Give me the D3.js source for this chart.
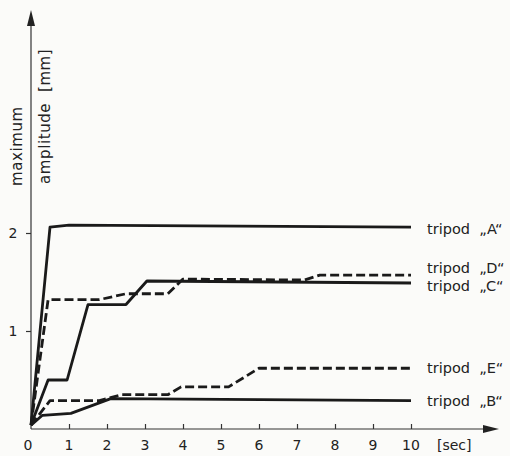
<!DOCTYPE html>
<html>
<head>
<meta charset="utf-8">
<script src="https://cdn.jsdelivr.net/npm/d3@7"></script>
<style>
  body { margin: 0; background: #fbfbf9; }
  text { font-family: "DejaVu Sans", sans-serif; fill: #222; }
</style>
</head>
<body>
<div id="chart"></div>
<script>
// time [sec], maximum amplitude [mm]
const tripodA = [[0, 0.04], [0.5, 2.06], [1, 2.08], [10, 2.06]];
const tripodB = [[0, 0.04], [0.3, 0.14], [1.05, 0.16], [2.1, 0.31], [10, 0.29]];
const tripodC = [[0, 0.04], [0.45, 0.5], [0.95, 0.5], [1.5, 1.27], [2.5, 1.27], [3.05, 1.51], [10, 1.49]];
const tripodD = [[0, 0.04], [0.45, 1.32], [1.8, 1.32], [2.5, 1.38], [3.6, 1.38], [4.0, 1.53], [7.2, 1.52], [7.6, 1.57], [10, 1.57]];
const tripodE = [[0, 0.04], [0.5, 0.29], [1.8, 0.29], [2.4, 0.35], [3.6, 0.35], [3.95, 0.43], [5.2, 0.43], [6.0, 0.62], [10, 0.62]];

const seriesNames = ["tripod\u00a0\u00a0„A“", "tripod\u00a0\u00a0„B“", "tripod\u00a0\u00a0„C“", "tripod\u00a0\u00a0„D“", "tripod\u00a0\u00a0„E“"];
const seriesData = [tripodA, tripodB, tripodC, tripodD, tripodE];
const seriesDashed = [false, false, false, true, true];
const labelAt = [2.04, 0.29, 1.46, 1.64, 0.62]; // where each label sits, in mm

const xTicks = [0, 1, 2, 3, 4, 5, 6, 7, 8, 9, 10];
const yTicks = [1, 2];

const svg = d3.select("#chart").append("svg").attr("width", 510).attr("height", 456);

const x = d3.scaleLinear().domain([0, 10]).range([31, 411]);
const y = d3.scaleLinear().domain([0, 2]).range([429, 233]);

// axes lines with arrows
svg.append("line").attr("x1", 31).attr("y1", 429).attr("x2", 31).attr("y2", 20)
  .attr("stroke", "#333").attr("stroke-width", 1.2);
svg.append("path").attr("d", "M31,10 L27,26 L35,26 Z").attr("fill", "#222");
svg.append("line").attr("x1", 31).attr("y1", 429).attr("x2", 488).attr("y2", 429)
  .attr("stroke", "#333").attr("stroke-width", 1.2);
svg.append("path").attr("d", "M499,429 L483,425 L483,433 Z").attr("fill", "#222");

// x ticks
const xAxis = svg.append("g").attr("transform", "translate(0,429)")
  .call(d3.axisTop(x).tickValues(xTicks.slice(1)).tickSize(5).tickFormat(""));
xAxis.select(".domain").remove();
xAxis.selectAll("line").attr("stroke", "#333").attr("stroke-width", 1.2);

svg.selectAll("text.xt").data(xTicks).enter().append("text")
  .attr("class", "xt")
  .attr("x", d => d === 0 ? x(d) - 3 : x(d))
  .attr("y", 450)
  .attr("text-anchor", "middle")
  .style("font-size", "14px")
  .text(d => d);

svg.append("text").attr("x", 437).attr("y", 450).style("font-size", "14px").text("[sec]");

// y ticks
const yAxis = svg.append("g").attr("transform", "translate(31,0)")
  .call(d3.axisLeft(y).tickValues(yTicks).tickSize(5).tickFormat(""));
yAxis.select(".domain").remove();
yAxis.selectAll("line").attr("stroke", "#333").attr("stroke-width", 1.2);

svg.selectAll("text.yt").data(yTicks).enter().append("text")
  .attr("class", "yt")
  .attr("x", 13)
  .attr("y", d => y(d) + 5)
  .attr("text-anchor", "middle")
  .style("font-size", "14px")
  .text(d => d);

// y axis title, two lines
svg.append("text").attr("transform", "translate(22,186) rotate(-90)")
  .style("font-size", "15px").style("letter-spacing", "0.6px").text("maximum");
svg.append("text").attr("transform", "translate(50,184) rotate(-90)")
  .style("font-size", "15px").style("letter-spacing", "0.6px").text("amplitude\u00a0\u00a0[mm]");

// series
const line = d3.line().x(d => x(d[0])).y(d => y(d[1]));

svg.selectAll("path.series").data(seriesData).enter().append("path")
  .attr("class", "series")
  .attr("d", line)
  .attr("fill", "none")
  .attr("stroke", "#1a1a1a")
  .attr("stroke-width", 2.8)
  .attr("stroke-linejoin", "round")
  .attr("stroke-dasharray", (d, i) => seriesDashed[i] ? "9,4" : null);

svg.selectAll("text.lab").data(seriesNames).enter().append("text")
  .attr("class", "lab")
  .attr("x", 427)
  .attr("y", (d, i) => y(labelAt[i]) + 5)
  .style("font-size", "14.5px")
  .text(d => d);
</script>
</body>
</html>
